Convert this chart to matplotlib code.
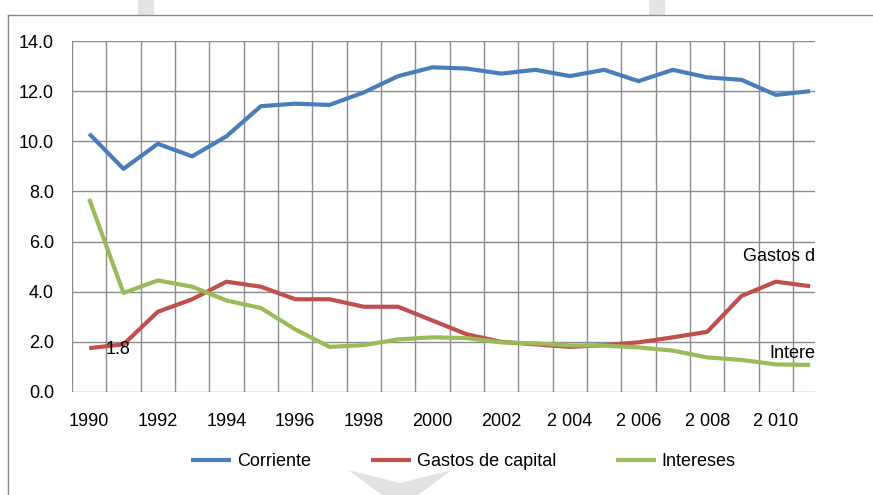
import matplotlib
matplotlib.use("Agg")
import matplotlib.pyplot as plt
from matplotlib.patches import Polygon, Rectangle
from matplotlib.lines import Line2D

years = list(range(1990, 2012))
xlabels = ["1990", "1992", "1994", "1996", "1998", "2000", "2002",
           "2 004", "2 006", "2 008", "2 010"]
corriente = [10.3, 8.9, 9.9, 9.4, 10.2, 11.4, 11.5, 11.45, 11.95, 12.6, 12.95,
             12.9, 12.7, 12.85, 12.6, 12.85, 12.4, 12.85, 12.55, 12.45, 11.85, 12.0]
gastos_capital = [1.75, 1.9, 3.2, 3.7, 4.4, 4.2, 3.7, 3.7, 3.4, 3.4, 2.85,
                  2.3, 2.0, 1.9, 1.8, 1.87, 1.98, 2.18, 2.4, 3.83, 4.4, 4.22]
intereses = [7.7, 3.95, 4.45, 4.2, 3.65, 3.35, 2.5, 1.8, 1.87, 2.1, 2.18,
             2.15, 1.98, 1.94, 1.86, 1.85, 1.78, 1.65, 1.38, 1.28, 1.1, 1.08]
yticks = [0, 2, 4, 6, 8, 10, 12, 14]

FONT = ["Liberation Sans", "DejaVu Sans"]
plt.rcParams["font.family"] = FONT
FS = 13

W, H = 873, 495
fig = plt.figure(figsize=(W / 100, H / 100), dpi=100)

def fx(px):
    return px / W
def fy(py):
    return 1 - py / H

# figure decorations (border + faint watermark shapes)
fig.add_artist(Line2D([fx(8), fx(873)], [fy(15), fy(15)], color="#8a8a8a", lw=1.0))
fig.add_artist(Line2D([fx(8), fx(8)], [fy(15), fy(495)], color="#8a8a8a", lw=1.0))
for x0 in (138, 649):
    fig.add_artist(Rectangle((fx(x0), fy(15)), 16 / W, 15 / H, color="#e4e4e4", lw=0))
fig.add_artist(Polygon([(fx(348), fy(470)), (fx(400), fy(483)), (fx(452), fy(470)),
                        (fx(418), fy(495)), (fx(382), fy(495))],
                       closed=True, color="#e2e2e2", lw=0))

ax = fig.add_axes([72 / W, (H - 392) / H, 743 / W, 351 / H])
x = list(range(len(years)))
ax.plot(x, corriente, color="#4a7ebb", lw=3.0, solid_capstyle="butt", label="Corriente", zorder=3)
ax.plot(x, gastos_capital, color="#c0504d", lw=3.0, solid_capstyle="butt", label="Gastos de capital", zorder=3)
ax.plot(x, intereses, color="#9bbb59", lw=3.0, solid_capstyle="butt", label="Intereses", zorder=3)

ax.set_xlim(-0.5, 21.14)
ax.set_ylim(0, 14)
ax.set_yticks(yticks)
ax.set_yticklabels([f"{v:.1f}" for v in yticks])
ax.set_xticks(list(range(0, 21, 2)))
ax.set_xticklabels(xlabels)
ax.tick_params(axis="both", length=0, labelsize=FS)
ax.tick_params(axis="x", pad=15)
ax.tick_params(axis="y", pad=13)

# grid
for v in yticks:
    ax.axhline(v, color="#8c8c8c", lw=1.0, zorder=1)
for b in [i + 0.5 for i in range(-1, 21)]:
    ax.axvline(b, color="#8c8c8c", lw=1.0, zorder=1)
for s in ax.spines.values():
    s.set_visible(False)

# data labels (only the visible part, as in the reference)
ax.text(0.49, 1.68, "1.8", fontsize=FS, ha="left", va="center", zorder=4)
ax.text(21.14, 5.4, "Gastos d", fontsize=FS, ha="right", va="center", zorder=4)
ax.text(21.14, 1.54, "Intere", fontsize=FS, ha="right", va="center", zorder=4)

handles, labels = ax.get_legend_handles_labels()
fig.legend(handles, labels, loc="center", bbox_to_anchor=(463.5 / W, fy(462)),
           ncol=3, frameon=False, fontsize=FS, handlelength=2.2,
           handletextpad=0.35, columnspacing=3.3)

fig.savefig("out.png", dpi=100)
